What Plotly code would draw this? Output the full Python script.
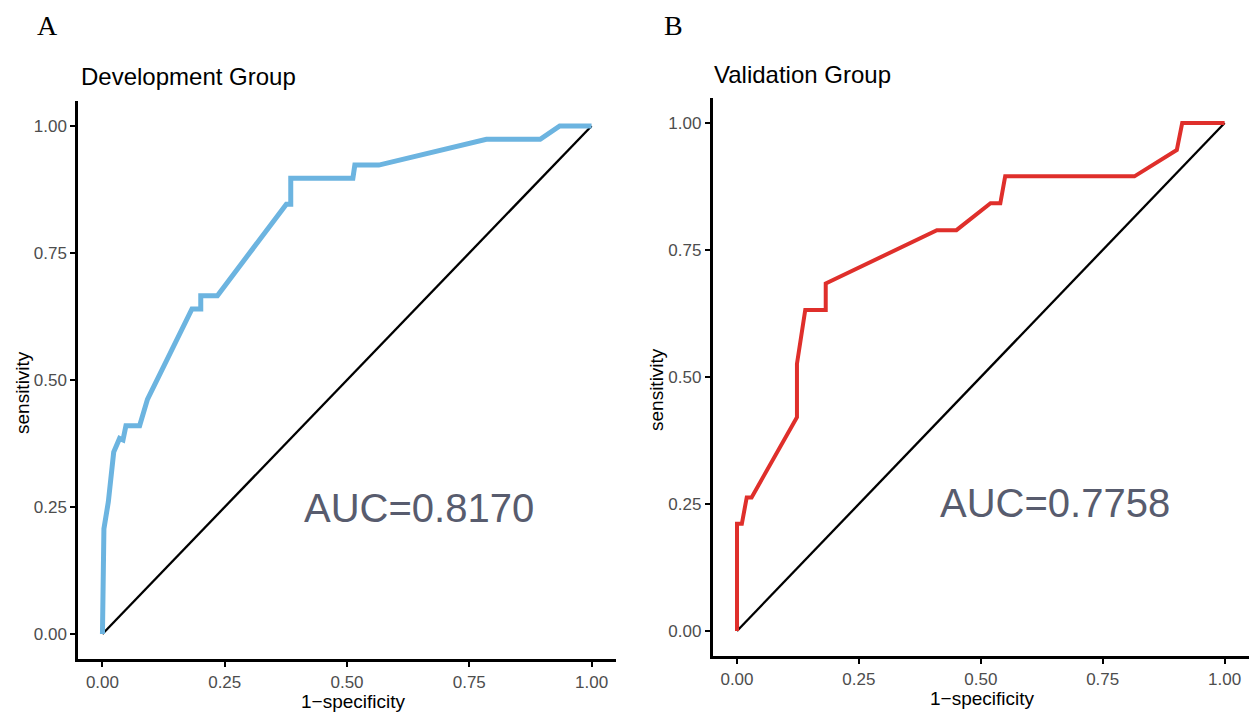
import plotly.graph_objects as go

# Development group ROC (1-specificity, sensitivity)
dev_fpr = [0, 0.003, 0.012, 0.023, 0.035, 0.042, 0.048, 0.076, 0.092, 0.183, 0.201, 0.201,
           0.235, 0.376, 0.385, 0.385, 0.512, 0.516, 0.565, 0.785, 0.895, 0.935, 1.0]
dev_tpr = [0, 0.207, 0.26, 0.358, 0.385, 0.382, 0.41, 0.41, 0.462, 0.64, 0.64, 0.666,
           0.666, 0.846, 0.846, 0.897, 0.897, 0.923, 0.923, 0.974, 0.974, 1.0, 1.0]

# Validation group ROC
val_fpr = [0, 0, 0.01, 0.02, 0.03, 0.123, 0.123, 0.14, 0.182, 0.182, 0.41, 0.45,
           0.52, 0.54, 0.55, 0.815, 0.902, 0.913, 1.0]
val_tpr = [0, 0.211, 0.211, 0.263, 0.263, 0.421, 0.526, 0.632, 0.632, 0.684, 0.789, 0.789,
           0.842, 0.842, 0.895, 0.895, 0.947, 1.0, 1.0]

ref_line = [0, 1]
tick_vals = [0, 0.25, 0.5, 0.75, 1.0]
tick_text = ["0.00", "0.25", "0.50", "0.75", "1.00"]
auc_labels = ["AUC=0.8170", "AUC=0.7758"]
panel_titles = ["Development Group", "Validation Group"]
panel_letters = ["A", "B"]

W, H = 1250, 716

fig = go.Figure()
fig.add_trace(go.Scatter(x=ref_line, y=ref_line, mode="lines",
                         line=dict(color="black", width=2.3), xaxis="x", yaxis="y",
                         showlegend=False, hoverinfo="skip"))
fig.add_trace(go.Scatter(x=dev_fpr, y=dev_tpr, mode="lines",
                         line=dict(color="#6cb4e0", width=5), xaxis="x", yaxis="y",
                         showlegend=False))
fig.add_trace(go.Scatter(x=ref_line, y=ref_line, mode="lines",
                         line=dict(color="black", width=2.3), xaxis="x2", yaxis="y2",
                         showlegend=False, hoverinfo="skip"))
fig.add_trace(go.Scatter(x=val_fpr, y=val_tpr, mode="lines",
                         line=dict(color="#df2f2b", width=4), xaxis="x2", yaxis="y2",
                         showlegend=False))

axis_common = dict(range=[-0.05, 1.05], tickvals=tick_vals, ticktext=tick_text,
                   showgrid=False, zeroline=False, showline=True, linecolor="black",
                   linewidth=2.5, ticks="outside", ticklen=5, tickwidth=2,
                   tickcolor="black", tickfont=dict(family="Liberation Sans, Arial",
                                                    size=17, color="#4d4d4d"))

def px_x(p):
    return p / W

def px_y(p):
    return 1 - p / H

fig.update_layout(
    width=W, height=H,
    margin=dict(l=0, r=0, t=0, b=0),
    paper_bgcolor="white", plot_bgcolor="white",
    xaxis=dict(domain=[px_x(78), px_x(616)], anchor="y", **axis_common),
    yaxis=dict(domain=[px_y(659.4), px_y(100.6)], anchor="x", **axis_common),
    xaxis2=dict(domain=[px_x(712.6), px_x(1249)], anchor="y2", **axis_common),
    yaxis2=dict(domain=[px_y(656.4), px_y(97.6)], anchor="x2", **axis_common),
)

annos = []
# panel letters
for letter, (x, y) in zip(panel_letters, [(47, 26), (673, 26)]):
    annos.append(dict(text=letter, x=px_x(x), y=px_y(y), xref="paper", yref="paper",
                      showarrow=False, xanchor="center", yanchor="middle",
                      font=dict(family="Liberation Serif, Times New Roman", size=28,
                                color="black")))
# panel titles
for t, (x, y) in zip(panel_titles, [(79, 77), (712, 74)]):
    annos.append(dict(text=t, x=px_x(x), y=px_y(y), xref="paper", yref="paper",
                      showarrow=False, xanchor="left", yanchor="middle",
                      font=dict(family="Liberation Sans, Arial", size=24, color="black")))
# axis titles
for (x, y) in [(353, 701), (982, 698)]:
    annos.append(dict(text="1−specificity", x=px_x(x), y=px_y(y), xref="paper",
                      yref="paper", showarrow=False, xanchor="center", yanchor="middle",
                      font=dict(family="Liberation Sans, Arial", size=19, color="black")))
for (x, y) in [(22, 393), (657, 390)]:
    annos.append(dict(text="sensitivity", x=px_x(x), y=px_y(y), xref="paper",
                      yref="paper", showarrow=False, xanchor="center", yanchor="middle",
                      textangle=-90,
                      font=dict(family="Liberation Sans, Arial", size=19, color="black")))
# AUC labels in data coordinates
for lab, (xr, yr), (x, y) in zip(auc_labels, [("x", "y"), ("x2", "y2")],
                                 [(0.648, 0.248), (0.652, 0.252)]):
    annos.append(dict(text=lab, x=x, y=y, xref=xr, yref=yr, showarrow=False,
                      xanchor="center", yanchor="middle",
                      font=dict(family="Liberation Sans, Arial", size=40, color="#585c6e")))

fig.update_layout(annotations=annos)
fig.write_html("out.html")
